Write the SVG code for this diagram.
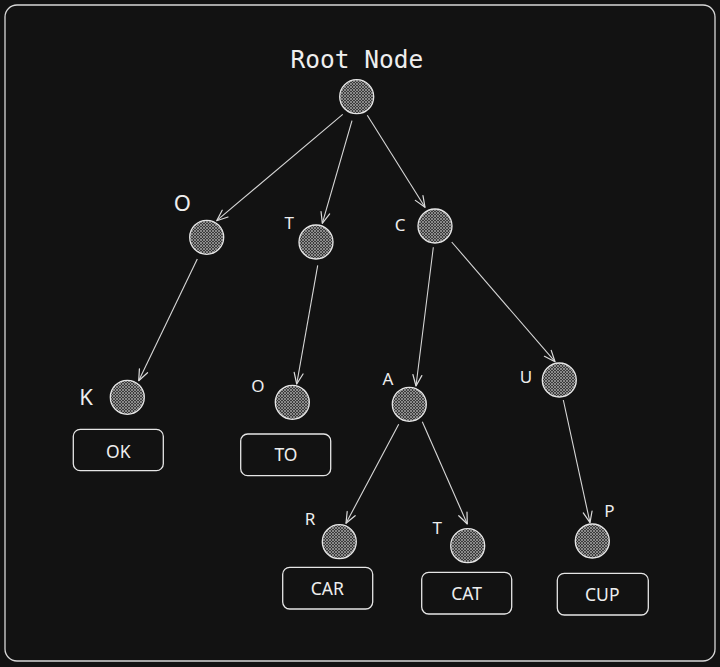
<svg xmlns="http://www.w3.org/2000/svg" width="720" height="667" viewBox="0 0 720 667">
<defs>
<pattern id="hatch" patternUnits="userSpaceOnUse" width="3" height="3">
<rect width="3" height="3" fill="#3a3a3a"/>
<path d="M0 0 L3 3 M3 0 L0 3" stroke="#a8a8a8" stroke-width="0.7"/>
</pattern>
<marker id="arr" viewBox="-12 -6 14 12" refX="0" refY="0" markerWidth="14" markerHeight="12" markerUnits="userSpaceOnUse" orient="auto">
<path d="M-11 -4.5 L0 0 L-11 4.5" fill="none" stroke="#dcdcdc" stroke-width="1.2" stroke-linecap="round" stroke-linejoin="round"/>
</marker>
<style>
.node{fill:url(#hatch);stroke:#e6e6e6;stroke-width:1.3}
.box{fill:#121212;stroke:#e6e6e6;stroke-width:1.3}
.edge{stroke:#d8d8d8;stroke-width:1.1;fill:none;marker-end:url(#arr)}
.lbl{font-family:"Noto Sans","Open Sans",sans-serif;fill:#eeeeee;text-anchor:middle}
.big{font-size:22px}
.sm{font-size:17px}
.word{font-size:17.5px}
.title{font-family:"DejaVu Sans Mono","Liberation Mono",monospace;font-size:24.5px;fill:#eeeeee;text-anchor:middle}
</style>
</defs>
<rect width="720" height="667" fill="#121212"/>
<rect x="5" y="5" width="710" height="656" rx="12" fill="#121212" stroke="#d8d8d8" stroke-width="1.3"/>

<g id="connectors">
<line class="edge" x1="342.7" y1="114.3" x2="216.7" y2="220.7"/>
<line class="edge" x1="352" y1="120.7" x2="322.3" y2="223.3"/>
<line class="edge" x1="367.3" y1="115.3" x2="425" y2="207.3"/>
<line class="edge" x1="197.3" y1="259" x2="138.7" y2="380.7"/>
<line class="edge" x1="317.7" y1="265.3" x2="296.7" y2="384"/>
<line class="edge" x1="433.3" y1="247.3" x2="416" y2="386"/>
<line class="edge" x1="451.7" y1="242" x2="555" y2="361.7"/>
<line class="edge" x1="398.7" y1="424.3" x2="346" y2="523.3"/>
<line class="edge" x1="422.3" y1="421.7" x2="467.3" y2="524"/>
<line class="edge" x1="563.3" y1="400" x2="590" y2="522.7"/>
</g>

<g id="root">
<text class="title" x="357" y="68">Root Node</text>
<circle class="node" cx="356.7" cy="96.7" r="17"/>
</g>
<g id="node-O">
<text class="lbl big" x="182.3" y="210.5">O</text>
<circle class="node" cx="206.7" cy="237.3" r="17"/>
</g>
<g id="node-T">
<text class="lbl sm" x="289.3" y="229.3">T</text>
<circle class="node" cx="316" cy="242" r="17"/>
</g>
<g id="node-C">
<text class="lbl sm" x="400" y="231">C</text>
<circle class="node" cx="435" cy="226" r="17"/>
</g>
<g id="node-OK">
<text class="lbl big" x="86" y="405">K</text>
<circle class="node" cx="127.3" cy="397.3" r="17"/>
<rect class="box" x="73.3" y="429.3" width="90" height="41.4" rx="7"/>
<text class="lbl word" x="118.3" y="457.6">OK</text>
</g>
<g id="node-TO">
<text class="lbl sm" x="258" y="392">O</text>
<circle class="node" cx="292.3" cy="402.3" r="17"/>
<rect class="box" x="240.7" y="434" width="90" height="41.7" rx="7"/>
<text class="lbl word" x="286" y="461">TO</text>
</g>
<g id="node-A">
<text class="lbl sm" x="388" y="385.3">A</text>
<circle class="node" cx="409.3" cy="404.3" r="17"/>
</g>
<g id="node-U">
<text class="lbl sm" x="526" y="383.3">U</text>
<circle class="node" cx="559.3" cy="380" r="17"/>
</g>
<g id="node-CAR">
<text class="lbl sm" x="310" y="525.3">R</text>
<circle class="node" cx="339.3" cy="541.7" r="17"/>
<rect class="box" x="282.7" y="567.3" width="90" height="41.7" rx="7"/>
<text class="lbl word" x="327.3" y="595.3">CAR</text>
</g>
<g id="node-CAT">
<text class="lbl sm" x="437.3" y="534.3">T</text>
<circle class="node" cx="467.7" cy="545.7" r="17"/>
<rect class="box" x="421.7" y="572.3" width="90" height="41.7" rx="7"/>
<text class="lbl word" x="466.7" y="600.3">CAT</text>
</g>
<g id="node-CUP">
<text class="lbl sm" x="609.3" y="516.7">P</text>
<circle class="node" cx="592.3" cy="541" r="17"/>
<rect class="box" x="557.3" y="573.3" width="91" height="41.7" rx="7"/>
<text class="lbl word" x="602.3" y="601">CUP</text>
</g>
</svg>
